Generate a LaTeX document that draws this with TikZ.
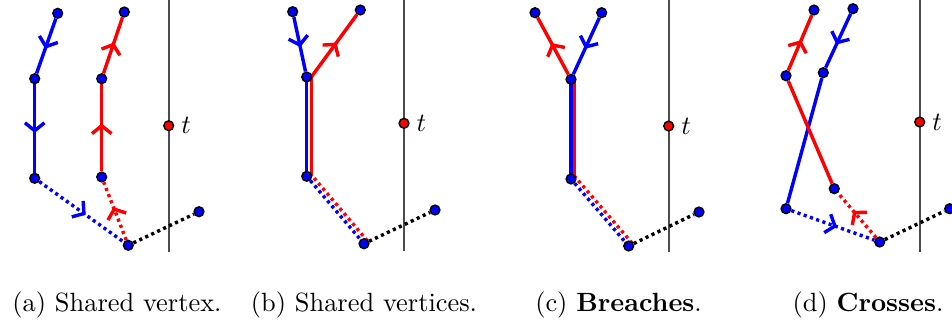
\documentclass[tikz,border=0pt]{standalone}
\usepackage{tikz}
\usetikzlibrary{
  arrows.meta,
  positioning, calc,
  decorations.markings,
  backgrounds
}
\usepackage{amsmath, amssymb}
\usepackage{xcolor}

\begin{document}
\begin{tikzpicture}[x=0.379pt, y=-0.379pt,
  vtx/.style={circle, fill=blue, draw=black, line width=0.55pt,
    inner sep=0pt, minimum size=3.7pt},
  tvtx/.style={vtx, fill=red},
  tlab/.style={inner sep=2.5pt},
  edge/.style={line width=1.3pt},
  dotedge/.style={line width=1.3pt, dash pattern=on 1.2pt off 1.3pt},
  midarrow/.style={postaction={decorate, solid, decoration={markings,
    mark=at position #1 with {\arrow{Straight Barb[length=3pt, width=7.4pt]}}}}},
  midarrow/.default=0.55,
  timeline/.style={black!70, line width=0.65pt}
]
  \useasboundingbox (0,0) rectangle (952,324);

  \node[vtx] (abl1) at (57.7,13.3) {};
  \node[vtx] (abl2) at (34.7,78.7) {};
  \node[vtx] (abl3) at (34.7,178.3) {};
  \node[vtx] (ard1) at (124.3,12) {};
  \node[vtx] (ard2) at (101.7,78.7) {};
  \node[vtx] (ard3) at (101.7,177) {};
  \node[vtx] (aroot) at (128.3,245.3) {};
  \node[vtx] (aend) at (199,211.7) {};
  \coordinate (atop) at (168.7,0);
  \coordinate (abot) at (168.7,251.7);
  \node[tvtx] (at) at (168.7,125.7) {};
  \node[tlab, right=0pt of at] (atl) {$t$};
  \node (acap) at (117,305) {(a) Shared vertex.};

  \node[vtx] (bbl1) at (292.7,11.7) {};
  \node[vtx] (brd1) at (360.3,10) {};
  \node[vtx] (bmid) at (306.7,77) {};
  \node[vtx] (bbot) at (306.7,176.3) {};
  \node[vtx] (broot) at (364,243.7) {};
  \node[vtx] (bend) at (435,210) {};
  \coordinate (btop) at (404,0);
  \coordinate (bbo) at (404,251);
  \node[tvtx] (bt) at (404,123.3) {};
  \node[tlab, right=0pt of bt] (btl) {$t$};
  \node (bcap) at (364,305) {(b) Shared vertices.};

  \node[vtx] (crd1) at (535,12.7) {};
  \node[vtx] (cbl1) at (601.7,12.7) {};
  \node[vtx] (cmid) at (571,79.3) {};
  \node[vtx] (cbot) at (571,179) {};
  \node[vtx] (croot) at (628.7,246) {};
  \node[vtx] (cend) at (699,212) {};
  \coordinate (ctop) at (668.7,0);
  \coordinate (cbo) at (668.7,252);
  \node[tvtx] (ct) at (668.7,126) {};
  \node[tlab, right=0pt of ct] (ctl) {$t$};
  \node (ccap) at (618.5,305) {(c) \textbf{Breaches}.};

  \node[vtx] (drd1) at (814,10) {};
  \node[vtx] (dbl1) at (853,8.7) {};
  \node[vtx] (drd2) at (786,75.7) {};
  \node[vtx] (dbl2) at (823.3,72.7) {};
  \node[vtx] (drd3) at (834.3,188.7) {};
  \node[vtx] (dbl3) at (786,208.7) {};
  \node[vtx] (droot) at (879.7,242) {};
  \node[vtx] (dend) at (949.7,208.7) {};
  \coordinate (dtop) at (919.7,0);
  \coordinate (dbo) at (919.7,252);
  \node[tvtx] (dt) at (919.7,122) {};
  \node[tlab, right=0pt of dt] (dtl) {$t$};
  \node (dcap) at (868,305) {(d) \textbf{Crosses}.};

  \begin{scope}[on background layer]
    \draw[timeline] (atop) -- (abot);
    \draw[edge, blue, midarrow] (abl1) -- (abl2);
    \draw[edge, blue, midarrow] (abl2) -- (abl3);
    \draw[dotedge, blue, midarrow] (abl3) -- (aroot);
    \draw[dotedge, red, midarrow=0.57] (aroot) -- (ard3);
    \draw[edge, red, midarrow] (ard3) -- (ard2);
    \draw[edge, red, midarrow] (ard2) -- (ard1);
    \draw[dotedge, black] (aroot) -- (aend);

    \draw[timeline] (btop) -- (bbo);
    \draw[edge, blue, midarrow] (bbl1) -- (bmid);
    \draw[edge, blue] (bmid.center) -- (bbot.center);
    \draw[dotedge, blue] (bbot) -- (broot);
    \draw[dotedge, red] ([shift={(3.4,-2.9)}]broot.center)
      -- ([shift={(3.4,-2.9)}]bbot.center);
    \draw[edge, red] ([shift={(4.6,0)}]bbot.center)
      -- ([shift={(4.6,0)}]bmid.center);
    \draw[edge, red, midarrow] ([shift={(4.6,0)}]bmid.center) -- (brd1);
    \draw[dotedge, black] (broot) -- (bend);

    \draw[timeline] (ctop) -- (cbo);
    \draw[edge, red, midarrow] (cmid) -- (crd1);
    \draw[edge, red] ([shift={(3,0)}]cbot.center)
      -- ([shift={(3,0)}]cmid.center);
    \draw[dotedge, red] ([shift={(3.4,-2.9)}]croot.center)
      -- ([shift={(3.4,-2.9)}]cbot.center);
    \draw[edge, blue, midarrow] (cbl1) -- (cmid);
    \draw[edge, blue] (cmid.center) -- (cbot.center);
    \draw[dotedge, blue] (cbot) -- (croot);
    \draw[dotedge, black] (croot) -- (cend);

    \draw[timeline] (dtop) -- (dbo);
    \draw[edge, blue, midarrow=0.57] (dbl1) -- (dbl2);
    \draw[edge, blue] (dbl2) -- (dbl3);
    \draw[dotedge, blue, midarrow] (dbl3) -- (droot);
    \draw[dotedge, red, midarrow=0.6] (droot) -- (drd3);
    \draw[edge, red] (drd3) -- (drd2);
    \draw[edge, red, midarrow] (drd2) -- (drd1);
    \draw[dotedge, black] (droot) -- (dend);
  \end{scope}
\end{tikzpicture}
\end{document}
